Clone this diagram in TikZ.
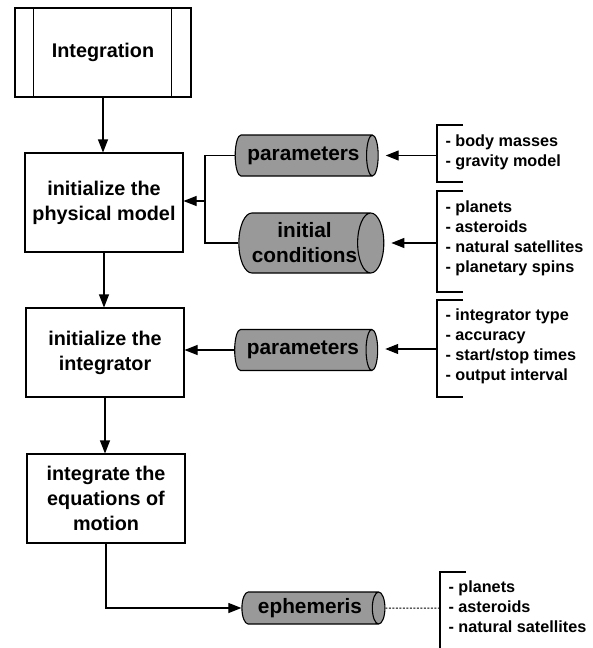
\documentclass[tikz,border=0pt]{standalone}
\usepackage{fontspec}
\setmainfont{Liberation Sans}
\usetikzlibrary{shapes.geometric,arrows.meta}
\begin{document}
\begin{tikzpicture}[x=1pt,y=-1pt,line width=1.1pt,
  box/.style={draw, rectangle, minimum width=158pt, minimum height=89pt,
    align=center, inner sep=0pt, font=\bfseries\fontsize{19.8}{25}\selectfont},
  store/.style={draw, cylinder, shape aspect=0.65, fill=black!40,
    minimum width=41pt, minimum height=143pt, inner sep=0pt, align=center,
    font=\bfseries\fontsize{20.8}{25}\selectfont},
  item/.style={anchor=west, align=left, inner sep=0pt,
    font=\bfseries\fontsize{16.2}{20}\selectfont},
  flow/.style={-{Triangle[length=13pt,width=10pt]}},
  link/.style={line width=1pt, dash pattern=on 2pt off 1.5pt}]
\useasboundingbox (0,0) rectangle (593,648);

% main chain of steps
\node[box, minimum width=176pt] (integ) at (103,52.5) {Integration};
\draw ([xshift=19pt]integ.north west) -- ([xshift=19pt]integ.south west);
\draw ([xshift=-20pt]integ.north east) -- ([xshift=-20pt]integ.south east);
\node[box, minimum height=99pt] (phys) at (104,202.5) {initialize the\\physical model};
\node[box] (initint) at (105,352.5) {initialize the\\integrator};
\node[box] (eqm) at (106,498.5) {integrate the\\equations of\\motion};

\draw[flow] (integ.south) -- (integ.south |- phys.north);
\draw[flow] (phys.south) -- (phys.south |- initint.north);
\draw[flow] (initint.south) -- (initint.south |- eqm.north);

% data stores
\node[store] (par1) at (303.5,155.5) {parameters};
\node[store, minimum width=60pt] (initc) at (304.5,243) {initial\\conditions};
\node[store] (par2) at (303,350) {parameters};
\node[store, minimum width=32pt] (eph) at (310,608) {ephemeris};

% inputs to the physical model
\coordinate (j1) at (205,201);
\draw (par1.west) -| (j1);
\draw (initc.west) -| (j1);
\draw[flow] (j1) -- (j1 -| phys.east);

% integrator parameters
\draw[flow] (par2.west) -- (par2.west -| initint.east);

% output of the integration
\draw[flow] (eqm.south) |- (eph.west);

% lists of contents
\coordinate (b1t) at (437,125); \coordinate (b1b) at (437,182);
\coordinate (b1m) at (437,155.5);
\draw ([xshift=26pt]b1t) -- (b1t) -- (b1b) -- ([xshift=26pt]b1b);
\draw[flow, shorten >=7pt] (b1m) -- (b1m -| par1.east);
\node[item] (l1) at (445,152) {- body masses\\- gravity model};

\coordinate (b2t) at (437,191); \coordinate (b2b) at (437,292);
\coordinate (b2m) at (437,243);
\draw ([xshift=26pt]b2t) -- (b2t) -- (b2b) -- ([xshift=26pt]b2b);
\draw[flow, shorten >=7pt] (b2m) -- (b2m -| initc.east);
\node[item] (l2) at (445,238) {- planets\\- asteroids\\- natural satellites\\- planetary spins};

\coordinate (b3t) at (437,300); \coordinate (b3b) at (437,397);
\coordinate (b3m) at (437,349);
\draw ([xshift=26pt]b3t) -- (b3t) -- (b3b) -- ([xshift=26pt]b3b);
\draw[flow, shorten >=7pt] (b3m) -- (b3m -| par2.east);
\node[item] (l3) at (445,346) {- integrator type\\- accuracy\\- start/stop times\\- output interval};

\coordinate (b4t) at (440,572); \coordinate (b4b) at (440,652);
\coordinate (b4m) at (440,608);
\draw ([xshift=26pt]b4t) -- (b4t) -- (b4b);
\draw[link] (eph.east) -- (b4m);
\node[item] (l4) at (448,607) {- planets\\- asteroids\\- natural satellites};
\end{tikzpicture}
\end{document}
